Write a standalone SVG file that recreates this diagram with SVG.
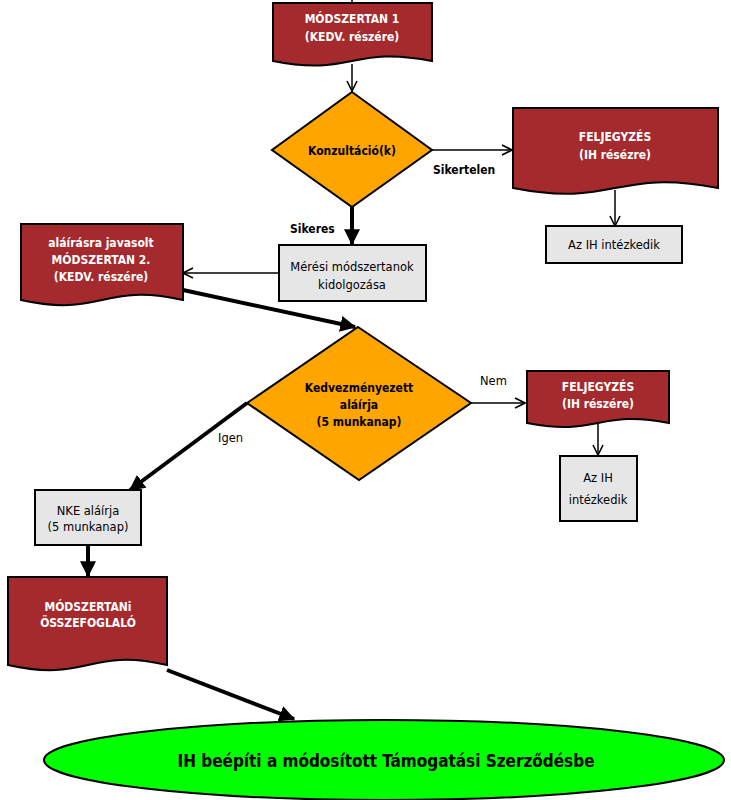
<svg xmlns="http://www.w3.org/2000/svg" width="731" height="800" viewBox="0 0 731 800">
<defs>
<style>
.doc{fill:#A52A2E;stroke:#000;stroke-width:2}
.dia{fill:#FFA500;stroke:#000;stroke-width:2}
.box{fill:#E6E6E6;stroke:#000;stroke-width:2}
.wt{fill:#fff;font-family:"DejaVu Sans Condensed","DejaVu Sans",sans-serif;font-weight:bold;font-size:12px;text-anchor:middle}
.bt{fill:#000;font-family:"DejaVu Sans Condensed","DejaVu Sans",sans-serif;font-weight:bold;font-size:12px;text-anchor:middle}
.rt{fill:#000;font-family:"DejaVu Sans",sans-serif;font-size:11.5px;text-anchor:middle}
.lb{fill:#000;font-family:"DejaVu Sans Condensed","DejaVu Sans",sans-serif;font-weight:bold;font-size:12px}
.ln{fill:#000;font-family:"DejaVu Sans",sans-serif;font-size:11.5px}
.c1{fill:none;stroke:#000;stroke-width:1.5}
.c3{fill:none;stroke:#000;stroke-width:4}
</style>
<marker id="oa" viewBox="0 0 12 12" refX="11" refY="6" markerWidth="12" markerHeight="12" markerUnits="userSpaceOnUse" orient="auto">
<path d="M1,1 L11,6 L1,11" fill="none" stroke="#000" stroke-width="1.6"/>
</marker>
<marker id="fa" viewBox="0 0 12 12" refX="11" refY="6" markerWidth="4" markerHeight="4" orient="auto">
<path d="M0,0 L12,6 L0,12 Z" fill="#000"/>
</marker>
</defs>
<g id="connectors">
<path class="c1" d="M352,0 V3"/>
<path class="c1" d="M352,64 V91" marker-end="url(#oa)"/>
<path class="c1" d="M432,150 H512" marker-end="url(#oa)"/>
<path class="c1" d="M615,190 V226" marker-end="url(#oa)"/>
<path class="c3" d="M352,207 V244" marker-end="url(#fa)"/>
<path class="c1" d="M279,273 H183" marker-end="url(#oa)"/>
<path class="c3" d="M183,290 L355,327" marker-end="url(#fa)"/>
<path class="c1" d="M471,403 L525,403" marker-end="url(#oa)"/>
<path class="c1" d="M598,424 V455" marker-end="url(#oa)"/>
<path class="c3" d="M247,403 L130,490" marker-end="url(#fa)"/>
<path class="c3" d="M88,545 V576" marker-end="url(#fa)"/>
<path class="c3" d="M167,670 L294,719" marker-end="url(#fa)"/>
<text class="lb" x="433" y="174">Sikertelen</text>
<text class="lb" x="290" y="233">Sikeres</text>
<text class="ln" x="480" y="385">Nem</text>
<text class="ln" x="218" y="442">Igen</text>
</g>
<g id="doc1">
<path class="doc" d="M273,3 H432 V61 C352,45 352,77 273,61 Z"/>
<text class="wt" x="352" y="23">MÓDSZERTAN 1</text>
<text class="wt" x="352" y="41">(KEDV. részére)</text>
</g>
<g id="decision1">
<path class="dia" d="M352,92 L432,150 L352,207 L272,150 Z"/>
<text class="bt" x="352" y="155">Konzultáció(k)</text>
</g>
<g id="note1">
<path class="doc" d="M513,108 H718 V188 C615,168 615,208 513,188 Z"/>
<text class="wt" x="615" y="141">FELJEGYZÉS</text>
<text class="wt" x="615" y="159">(IH résézre)</text>
</g>
<g id="action1">
<rect class="box" x="546" y="226" width="136" height="37"/>
<text class="rt" x="614" y="249">Az IH intézkedik</text>
</g>
<g id="develop">
<rect class="box" x="279" y="245" width="147" height="56"/>
<text class="rt" x="352" y="271">Mérési módszertanok</text>
<text class="rt" x="352" y="289">kidolgozása</text>
</g>
<g id="doc2">
<path class="doc" d="M21,224 H183 V300 C102,282 102,318 21,300 Z"/>
<text class="wt" x="101" y="247">aláírásra javasolt</text>
<text class="wt" x="101" y="264">MÓDSZERTAN 2.</text>
<text class="wt" x="101" y="281">(KEDV. részére)</text>
</g>
<g id="decision2">
<path class="dia" d="M358,327 L471,403 L359,480 L247,403 Z"/>
<text class="bt" x="359" y="392">Kedvezményezett</text>
<text class="bt" x="359" y="409">aláírja</text>
<text class="bt" x="359" y="426">(5 munkanap)</text>
</g>
<g id="note2">
<path class="doc" d="M527,371 H669 V423 C598,409 598,437 527,423 Z"/>
<text class="wt" x="598" y="391">FELJEGYZÉS</text>
<text class="wt" x="598" y="408">(IH részére)</text>
</g>
<g id="action2">
<rect class="box" x="560" y="456" width="77" height="65"/>
<text class="rt" x="598" y="482">Az IH</text>
<text class="rt" x="598" y="504">intézkedik</text>
</g>
<g id="nke">
<rect class="box" x="35" y="490" width="106" height="55"/>
<text class="rt" x="88" y="515">NKE aláírja</text>
<text class="rt" x="88" y="531">(5 munkanap)</text>
</g>
<g id="doc3">
<path class="doc" d="M8,577 H167 V665 C88,647 88,683 8,665 Z"/>
<text class="wt" x="88" y="611">MÓDSZERTANi</text>
<text class="wt" x="88" y="627">ÖSSZEFOGLALÓ</text>
</g>
<g id="end">
<ellipse cx="384" cy="760" rx="340" ry="40" fill="#00FF00" stroke="#000" stroke-width="2"/>
<text x="386" y="767" font-family="'DejaVu Sans Condensed','DejaVu Sans',sans-serif" font-weight="bold" font-size="17" text-anchor="middle" textLength="417" lengthAdjust="spacingAndGlyphs">IH beépíti a módosított Támogatási Szerződésbe</text>
</g>
</svg>
